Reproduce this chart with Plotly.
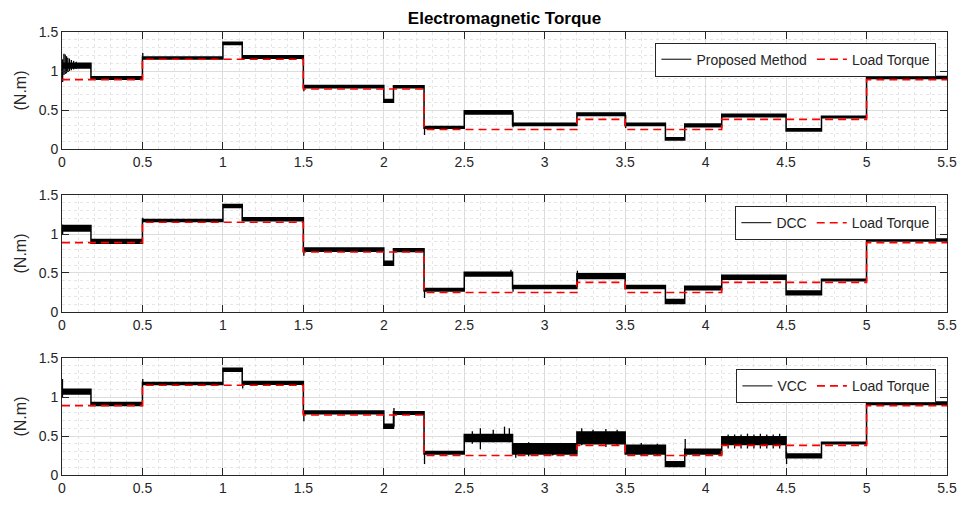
import plotly.graph_objects as go

# ---------------- data ----------------
step_times = [0, 0.18, 0.5, 1.0, 1.12, 1.5, 2.0, 2.06, 2.25, 2.5, 2.8,
              3.2, 3.5, 3.75, 3.87, 4.1, 4.5, 4.72, 5.0, 5.5]

load_times = [0, 0.5, 1.5, 2.25, 3.2, 3.5, 4.1, 5.0, 5.5]
load_torque = [0.89, 1.15, 0.77, 0.25, 0.38, 0.25, 0.38, 0.89]

# ripple band (lower / upper envelope) of each torque step
prop_lo = [1.04, 0.895, 1.155, 1.34, 1.165, 0.785, 0.60, 0.785, 0.265, 0.45,
           0.30, 0.43, 0.30, 0.115, 0.285, 0.415, 0.23, 0.40, 0.905]
prop_hi = [1.10, 0.925, 1.18, 1.37, 1.195, 0.815, 0.635, 0.81, 0.29, 0.49,
           0.33, 0.46, 0.33, 0.145, 0.32, 0.445, 0.26, 0.42, 0.93]

dcc_lo = [1.04, 0.88, 1.16, 1.34, 1.17, 0.78, 0.60, 0.775, 0.27, 0.46,
          0.30, 0.43, 0.30, 0.11, 0.285, 0.42, 0.22, 0.40, 0.91]
dcc_hi = [1.11, 0.93, 1.185, 1.38, 1.21, 0.82, 0.65, 0.81, 0.30, 0.51,
          0.34, 0.49, 0.34, 0.16, 0.33, 0.47, 0.27, 0.42, 0.935]

vcc_lo = [1.04, 0.89, 1.16, 1.33, 1.165, 0.785, 0.60, 0.78, 0.27, 0.43,
          0.27, 0.40, 0.27, 0.11, 0.27, 0.39, 0.22, 0.40, 0.905]
vcc_hi = [1.10, 0.93, 1.185, 1.37, 1.20, 0.82, 0.65, 0.81, 0.30, 0.52,
          0.40, 0.55, 0.38, 0.17, 0.33, 0.49, 0.27, 0.42, 0.935]

# transient spikes: time, min, max
prop_spike_t = [0.004, 0.012, 0.02, 0.028, 0.036, 0.046, 0.058, 0.072, 0.088,
                0.502, 1.503, 2.253, 2.803, 3.503, 5.002]
prop_spike_lo = [0.86, 0.95, 0.96, 0.97, 0.99, 1.0, 1.01, 1.02, 1.03,
                 1.15, 0.74, 0.18, 0.28, 0.27, 0.90]
prop_spike_hi = [1.15, 1.22, 1.21, 1.19, 1.17, 1.16, 1.14, 1.13, 1.12,
                 1.23, 0.80, 0.28, 0.47, 0.44, 1.03]

dcc_spike_t = [0.004, 0.502, 1.503, 2.253, 2.79, 2.803, 3.203, 5.002]
dcc_spike_lo = [1.0, 1.15, 0.72, 0.18, 0.46, 0.26, 0.32, 0.90]
dcc_spike_hi = [1.12, 1.21, 0.80, 0.28, 0.54, 0.34, 0.53, 0.98]

vcc_spike_t = [0.003, 0.502, 1.123, 1.503, 2.063, 2.253,
               2.55, 2.6, 2.68, 2.75, 2.78, 2.82, 2.9, 3.05,
               3.23, 3.3, 3.38, 3.45, 3.6, 3.7, 3.873,
               4.14, 4.18, 4.22, 4.26, 4.30, 4.34, 4.38, 4.42, 4.46,
               4.503, 5.002]
vcc_spike_lo = [1.0, 1.15, 1.11, 0.69, 0.62, 0.14,
                0.40, 0.33, 0.42, 0.44, 0.42, 0.22, 0.24, 0.25,
                0.38, 0.40, 0.36, 0.38, 0.26, 0.25, 0.28,
                0.34, 0.34, 0.34, 0.34, 0.34, 0.34, 0.34, 0.34, 0.34,
                0.14, 0.90]
vcc_spike_hi = [1.23, 1.23, 1.18, 0.80, 0.86, 0.28,
                0.56, 0.60, 0.58, 0.62, 0.60, 0.36, 0.42, 0.41,
                0.60, 0.58, 0.59, 0.58, 0.41, 0.40, 0.46,
                0.52, 0.52, 0.52, 0.53, 0.52, 0.53, 0.52, 0.52, 0.53,
                0.30, 1.03]

panels = [
    ("Proposed Method", prop_lo, prop_hi, prop_spike_t, prop_spike_lo, prop_spike_hi),
    ("DCC", dcc_lo, dcc_hi, dcc_spike_t, dcc_spike_lo, dcc_spike_hi),
    ("VCC", vcc_lo, vcc_hi, vcc_spike_t, vcc_spike_lo, vcc_spike_hi),
]

# ---------------- layout geometry ----------------
domains = [[0.7359, 1.0], [0.368, 0.632], [0.0, 0.2641]]
legend_y = [0.976, 0.607, 0.2386]

FONT = "Liberation Sans, Arial, sans-serif"
TXT = "#262626"

fig = go.Figure()

for i, (name, lo, hi, st, slo, shi) in enumerate(panels):
    xa = "x" if i == 0 else f"x{i+1}"
    ya = "y" if i == 0 else f"y{i+1}"
    lg = "legend" if i == 0 else f"legend{i+1}"

    # band polygon: upper envelope forward, lower envelope backward
    bx, by = [], []
    for k in range(len(hi)):
        bx += [step_times[k], step_times[k + 1]]
        by += [hi[k], hi[k]]
    for k in range(len(lo) - 1, -1, -1):
        bx += [step_times[k + 1], step_times[k]]
        by += [lo[k], lo[k]]
    fig.add_trace(go.Scatter(x=bx, y=by, mode="lines", fill="toself",
                             fillcolor="black", line=dict(color="black", width=1.5),
                             showlegend=False, hoverinfo="skip",
                             xaxis=xa, yaxis=ya))

    # transient spikes
    sx, sy = [], []
    for t, a, b in zip(st, slo, shi):
        sx += [t, t, None]
        sy += [a, b, None]
    fig.add_trace(go.Scatter(x=sx, y=sy, mode="lines",
                             line=dict(color="black", width=1.3),
                             showlegend=False, hoverinfo="skip",
                             xaxis=xa, yaxis=ya))

    # legend entry for the torque signal
    fig.add_trace(go.Scatter(x=[None], y=[None], mode="lines", name=name,
                             line=dict(color="black", width=1),
                             legend=lg, xaxis=xa, yaxis=ya))

    # load torque
    fig.add_trace(go.Scatter(x=load_times, y=load_torque + [load_torque[-1]],
                             mode="lines", name="Load Torque", line_shape="hv",
                             line=dict(color="#ff0000", width=1.6, dash="8px,5px"),
                             legend=lg, xaxis=xa, yaxis=ya))

    axis_common = dict(
        showline=True, linecolor="#262626", linewidth=1, mirror="ticks",
        ticks="inside", ticklen=7, tickwidth=1, tickcolor="#262626",
        showgrid=True, gridcolor="#dcdcdc", gridwidth=1,
        zeroline=False, automargin=False,
        tickfont=dict(family=FONT, size=14, color=TXT),
    )
    xkey = "xaxis" if i == 0 else f"xaxis{i+1}"
    ykey = "yaxis" if i == 0 else f"yaxis{i+1}"
    fig.update_layout(**{
        xkey: dict(axis_common, range=[0, 5.5], dtick=0.5, tick0=0,
                   anchor=ya, domain=[0, 1],
                   minor=dict(dtick=0.1, showgrid=True, gridcolor="#e6e6e6",
                              griddash="dot", ticks="")),
        ykey: dict(axis_common, range=[0, 1.5], dtick=0.5, tick0=0,
                   anchor=xa, domain=domains[i],
                   minor=dict(dtick=0.1, showgrid=True, gridcolor="#e6e6e6",
                              griddash="dot", ticks=""),
                   title=dict(text="(N.m)", standoff=8,
                              font=dict(family=FONT, size=16, color=TXT))),
        lg: dict(x=0.988, y=legend_y[i], xanchor="right", yanchor="top",
                 orientation="h", bgcolor="white", bordercolor="#262626",
                 borderwidth=1, font=dict(family=FONT, size=14, color=TXT),
                 itemwidth=30, tracegroupgap=0),
    })

fig.update_layout(
    width=960, height=507,
    margin=dict(l=62, r=13, t=32, b=32),
    paper_bgcolor="white", plot_bgcolor="white",
    title=dict(text="<b>Electromagnetic Torque</b>", x=0.5, xref="paper",
               xanchor="center", y=1 - 18 / 507, yanchor="middle",
               font=dict(family=FONT, size=17, color="black")),
    font=dict(family=FONT, color=TXT),
)

fig.write_html("out.html")
